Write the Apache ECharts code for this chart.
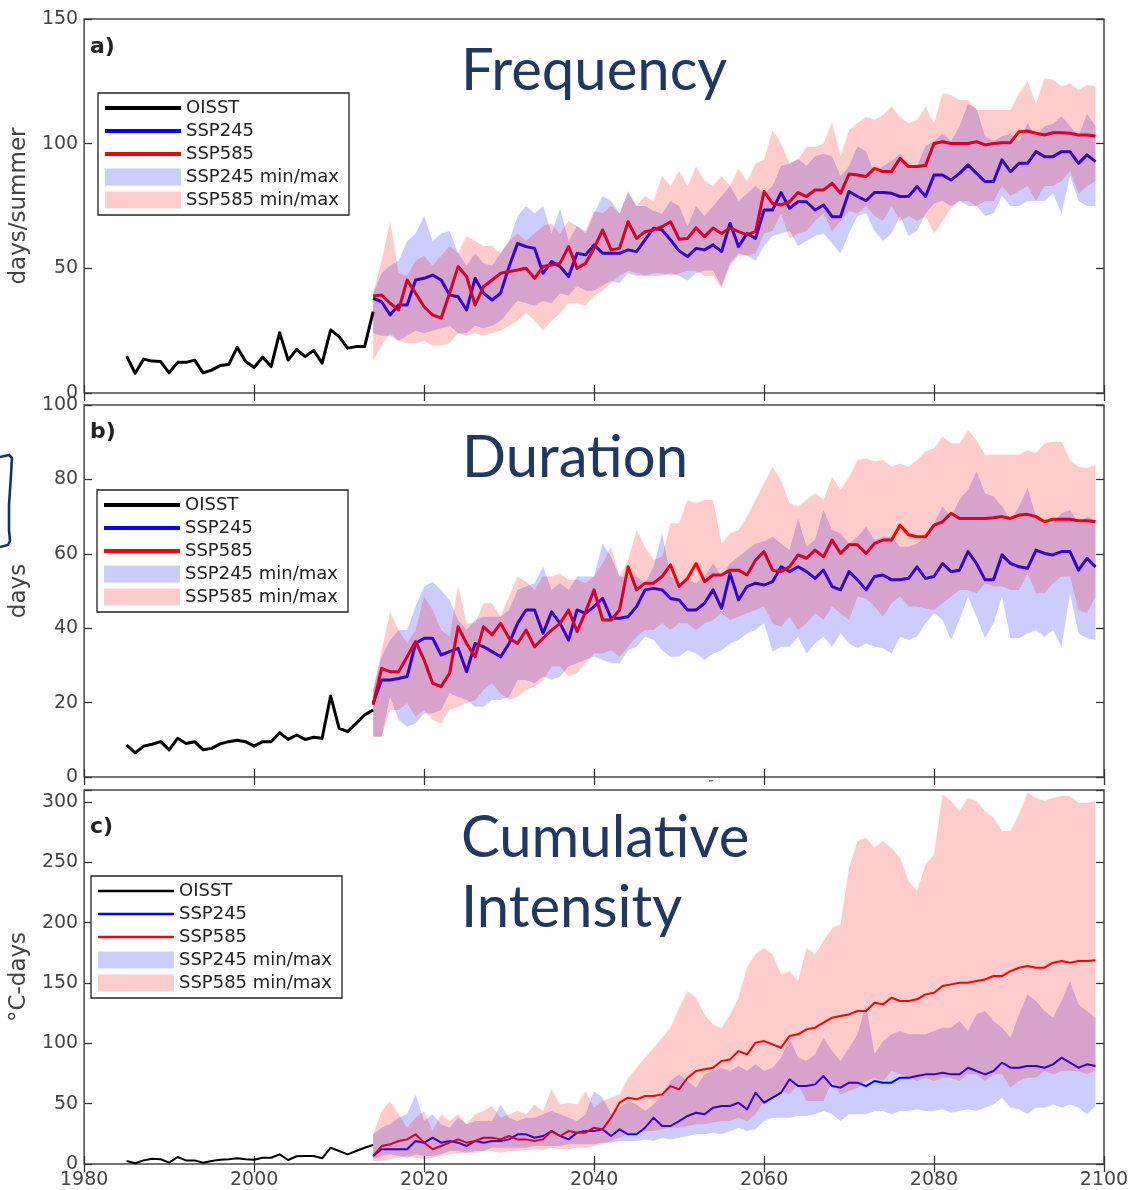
<!DOCTYPE html>
<html><head><meta charset="utf-8">
<script src="https://cdn.jsdelivr.net/npm/echarts@6/dist/echarts.min.js"></script>
<style>html,body{margin:0;padding:0;background:#fff}#c{width:1133px;height:1190px}</style>
</head><body><div id="c"></div>
<script>
// ---------- categories ----------
const obsYears = [1985,1986,1987,1988,1989,1990,1991,1992,1993,1994,1995,1996,1997,1998,1999,2000,2001,2002,2003,2004,2005,2006,2007,2008,2009,2010,2011,2012,2013,2014];
const projYears = [2014,2015,2016,2017,2018,2019,2020,2021,2022,2023,2024,2025,2026,2027,2028,2029,2030,2031,2032,2033,2034,2035,2036,2037,2038,2039,2040,2041,2042,2043,2044,2045,2046,2047,2048,2049,2050,2051,2052,2053,2054,2055,2056,2057,2058,2059,2060,2061,2062,2063,2064,2065,2066,2067,2068,2069,2070,2071,2072,2073,2074,2075,2076,2077,2078,2079,2080,2081,2082,2083,2084,2085,2086,2087,2088,2089,2090,2091,2092,2093,2094,2095,2096,2097,2098,2099];

// ---------- a) Frequency (days/summer) ----------
const freqOISST = [14.8,7.9,13.6,12.8,12.6,8.1,12.3,12.3,13.2,8.1,9.2,11.0,11.4,18.3,12.6,10.2,14.4,10.6,24.2,13.2,17.5,14.6,17.1,12.0,25.3,22.6,18.0,18.6,18.6,32.6];
const freqSSP245 = [38.0,36.6,31.3,35.3,35.3,45.3,46.0,47.3,45.3,39.3,38.6,33.3,46.0,40.0,37.3,40.0,50.7,60.0,58.7,58.0,48.0,52.7,50.7,46.7,56.0,55.4,59.4,56.0,56.0,56.0,57.4,56.7,61.4,66.1,65.4,61.4,57.0,54.7,58.0,57.4,59.4,56.7,68.1,58.7,64.0,62.0,
  73.4,73.4,80.4,74.1,76.7,76.7,73.4,75.4,70.7,70.7,80.8,78.8,77.1,80.4,80.4,80.1,78.8,78.8,82.8,78.8,87.4,87.4,85.4,88.1,91.5,88.1,84.8,84.8,93.5,88.8,92.1,92.1,96.8,94.8,94.8,96.8,96.8,92.1,95.5,92.8];
const freqSSP585 = [38.9,39.3,36.0,33.3,45.3,40.0,34.6,31.3,30.0,40.0,50.7,46.7,35.3,42.7,45.3,48.0,48.7,49.3,50.0,46.0,50.7,51.3,52.0,58.7,50.0,52.0,58.0,65.4,57.4,58.0,68.7,62.0,64.7,65.4,66.7,68.7,61.7,62.0,66.2,62.7,66.2,64.0,66.2,64.7,63.4,64.7,
  80.8,76.1,75.4,76.7,80.4,78.8,81.4,81.4,84.1,80.1,87.8,87.4,86.8,90.1,88.8,88.8,94.1,90.8,90.8,91.2,100.1,100.8,100.1,100.1,100.1,100.8,99.5,100.1,100.4,100.4,104.8,105.1,104.2,103.5,104.4,104.4,104.2,103.5,103.5,103.1];
const freqSSP245Min = [24,23,23,21,23,25,24,25,26,27,24,24,27,26,27,29,33,37,36,35,37,36,40,39,43,41,41,43,45,44,48,47,47,47,47,48,47,45,48,49,49,43,52,56,55,53,
  59,63,64,65,59,61,63,64,60,56,64,71,72,65,61,64,71,63,65,72,76,77,75,77,75,75,71,72,79,75,75,77,77,77,80,72,87,77,75,75];
const freqSSP245Max = [40,48,51,53,61,64,71,61,64,65,56,51,56,52,51,56,61,71,75,72,75,64,74,61,67,64,72,79,77,72,81,75,75,73,72,77,75,67,75,71,75,79,83,77,80,83,
  80,83,91,92,94,91,95,96,95,87,91,99,97,88,91,93,96,91,91,99,101,104,101,107,116,114,103,101,103,104,101,108,103,107,108,111,107,103,112,107];
const freqSSP585Min = [13,19,24,21,20,20,21,19,19,20,24,23,24,23,24,25,27,29,32,29,25,29,32,36,36,35,39,41,44,47,49,48,47,48,48,47,48,49,49,47,47,42,51,55,55,56,
  64,65,72,62,64,65,69,72,65,69,73,72,75,71,69,75,69,71,69,71,64,69,74,77,77,75,77,77,83,79,81,83,77,83,83,85,89,80,83,85];
const freqSSP585Max = [40,53,69,48,47,53,55,51,55,59,56,63,61,59,59,56,61,64,61,64,67,68,64,69,67,65,73,72,75,72,80,75,79,77,87,83,89,83,91,85,83,87,83,90,85,92,
  93.5,105.5,100.1,92.1,93.5,98.8,98.8,100.1,108.8,94.8,105.5,108.2,110.8,109.5,111.5,114.9,110.8,108.2,109.5,114.9,108.2,120.2,119.5,117.5,117.5,113.5,113.5,113.5,113.5,113.5,120.2,124.9,116.2,126.2,125.6,122.9,124.2,121.5,123.5,122.9];

// ---------- b) Duration (days) ----------
const durOISST = [8.6,6.5,8.3,8.8,9.5,7.3,10.4,9.0,9.5,7.3,7.7,8.9,9.5,9.9,9.5,8.3,9.5,9.5,11.9,10.1,11.3,10.1,10.7,10.4,21.8,13.1,12.2,14.4,16.7,18.0];
const durSSP245 = [19.8,26.1,26.1,26.5,27.0,35.9,37.3,37.3,32.8,33.7,34.6,28.3,35.9,35.0,33.7,32.3,35.9,41.3,44.9,44.9,38.6,44.4,41.3,36.8,44.9,44.0,45.8,48.0,42.7,42.7,43.1,45.8,50.3,50.7,50.3,48.0,47.6,44.9,44.9,46.7,50.3,45.3,54.7,47.6,51.2,52.1,
  51.6,52.5,56.5,55.2,56.5,55.2,53.4,55.6,51.2,50.3,55.2,53.0,50.3,53.9,54.3,53.0,53.0,53.4,56.5,53.4,53.9,57.4,55.2,55.6,60.6,57.4,53.0,53.0,59.7,57.4,56.5,56.1,61.0,60.1,59.7,60.6,60.6,55.6,58.8,56.5];
const durSSP585 = [19.4,29.2,28.3,28.3,32.3,36.4,31.5,25.2,24.3,27.9,40.4,35.9,32.3,40.4,38.2,41.3,37.3,35.9,39.5,35.0,37.3,39.5,41.3,44.9,39.1,44.4,50.3,42.2,42.2,44.9,56.5,50.3,52.1,52.1,53.9,57.0,51.2,53.4,57.4,52.5,54.3,54.3,55.6,55.6,54.3,58.3,
  60.6,55.6,55.2,56.5,59.7,58.8,61.0,59.2,63.7,60.1,62.4,62.4,60.1,62.8,63.7,63.7,67.7,65.1,64.6,64.6,67.7,68.6,70.9,69.5,69.5,69.5,69.5,69.7,70.0,69.5,70.4,70.6,70.0,68.6,69.3,69.3,69.3,68.9,68.9,68.6];
const durSSP245Min = [10.8,10.8,21.6,15.3,13.5,14.4,17.1,17.1,18.0,22.5,21.6,20.7,18.9,18.9,20.7,20.7,21.6,26.1,26.1,25.2,27.0,26.1,27.0,29.7,30.6,31.5,32.3,31.5,30.6,30.6,34.1,35.0,37.7,36.8,34.1,32.3,32.3,34.1,33.2,31.5,33.2,34.1,35.9,36.8,38.6,39.5,
  41.3,33.7,35.0,35.0,37.7,33.2,35.9,37.7,35.0,38.6,35.9,34.6,35.9,35.0,34.6,33.2,37.7,36.8,37.7,41.3,44.0,42.2,36.8,42.2,48.5,43.1,37.3,41.3,48.5,37.3,37.3,38.6,39.5,37.7,39.5,35.0,49.4,38.6,37.3,36.8];
const durSSP245Max = [23.4,32.3,36.8,39.5,39.5,45.8,51.2,52.5,50.3,47.6,42.2,39.5,42.2,43.1,43.1,43.1,44.9,50.3,51.2,52.1,56.5,50.3,52.1,50.3,53.9,53.9,53.9,62.8,59.2,53.9,53.9,53.9,52.1,56.5,65.5,53.9,52.1,53.0,52.1,53.9,57.4,53.9,57.4,59.2,61.0,62.8,
  63.3,64.6,62.8,61.0,69.5,61.9,63.7,71.8,66.4,65.5,62.8,64.6,67.3,63.7,64.6,64.6,61.9,61.9,62.8,64.6,68.2,72.7,70.0,74.5,77.2,82.1,76.3,75.4,72.7,69.1,72.7,77.6,70.0,68.2,68.2,70.9,71.8,68.2,70.0,69.1];
const durSSP585Min = [10.8,10.8,18.0,18.0,19.8,16.2,18.0,15.3,14.4,18.0,18.9,19.8,20.7,23.4,25.2,22.5,20.7,21.6,23.4,24.3,26.1,29.7,29.7,27.0,27.9,30.6,33.2,33.2,34.1,32.3,35.0,37.7,39.5,39.5,41.3,39.5,41.3,41.3,39.5,41.3,42.2,44.0,42.2,43.1,44.0,44.9,
  45.8,41.3,40.4,43.1,39.5,41.3,44.0,42.2,45.8,44.0,42.2,48.5,48.0,45.8,43.1,46.7,48.5,45.8,45.8,45.3,44.9,46.7,48.5,50.3,50.3,49.4,52.1,51.2,51.2,50.3,50.3,54.7,49.4,49.4,52.1,53.9,53.9,44.9,44.0,48.5];
const durSSP585Max = [23.4,34.1,44.4,39.5,35.9,39.5,48.5,44.9,39.5,37.7,51.6,41.3,41.3,46.7,46.7,43.1,48.5,53.9,52.5,50.3,53.9,53.9,54.7,53.0,53.0,52.1,53.9,57.4,61.9,53.9,58.3,66.4,61.9,58.3,59.2,68.2,68.2,74.5,73.6,74.5,74.5,62.8,65.5,66.4,70.0,74.5,
  78.9,83.4,79.8,73.6,72.7,74.5,76.3,74.5,80.7,77.2,80.7,85.2,85.7,84.8,85.2,83.4,84.3,83.4,85.2,87.5,88.4,91.5,89.7,89.7,93.3,90.6,86.6,86.6,86.6,86.6,86.6,87.9,87.0,89.7,90.1,90.1,85.2,83.4,83.0,83.9];

// ---------- c) Cumulative intensity (°C-days) ----------
const ciOISST = [2.5,0.6,3.0,4.4,3.9,1.1,5.8,3.0,3.0,1.1,2.5,3.6,3.9,4.7,3.9,3.6,5.2,5.2,8.0,3.3,6.4,6.6,6.6,4.7,13.5,10.8,8.0,10.8,13.5,15.7];
const ciSSP245 = [6.6,12.2,12.2,12.2,12.2,19.1,17.7,21.8,17.7,19.1,17.7,14.9,19.1,17.7,19.1,19.1,20.4,24.6,24.6,21.8,23.2,27.3,23.2,20.4,26.0,27.3,27.3,28.7,23.2,28.7,24.6,24.6,30.1,38.4,31.5,31.5,35.6,39.8,42.5,41.2,46.7,48.1,48.1,50.8,45.3,59.1,
  50.8,55.0,59.1,70.2,64.6,64.6,66.0,72.9,64.6,63.3,67.4,67.4,64.6,68.8,67.4,67.4,71.5,71.5,72.9,74.3,74.3,75.7,74.3,74.3,79.8,77.1,74.3,77.1,84.0,79.8,79.8,81.2,81.2,79.8,82.6,88.1,84.0,79.8,82.6,81.2];
const ciSSP585 = [6.6,14.9,16.3,19.1,20.4,24.6,17.7,12.2,14.9,17.7,20.4,17.7,19.1,21.8,21.8,20.4,23.2,20.4,20.4,19.1,20.4,27.3,23.2,27.3,26.0,26.0,30.1,28.7,38.4,50.8,55.0,53.6,56.4,56.4,57.7,64.6,61.9,71.5,77.1,78.5,79.8,85.4,86.7,93.6,90.9,100.6,
  101.9,99.2,96.4,106.1,107.5,111.6,113.0,117.1,121.3,122.7,124.0,126.8,126.8,133.7,132.3,137.8,135.1,135.1,136.5,140.6,142.0,147.5,148.9,150.3,150.3,151.7,153.0,155.8,155.8,159.9,162.7,164.1,162.7,162.7,166.9,168.2,166.9,168.2,168.2,168.8];
const ciSSP245Min = [3.9,6.6,8.0,6.6,5.2,8.0,6.6,6.6,8.0,10.8,10.8,9.4,10.8,10.8,13.5,13.5,13.5,13.5,13.5,14.9,14.9,14.9,14.9,16.3,16.3,16.3,16.3,17.7,17.7,19.1,19.1,19.1,20.4,19.1,21.8,20.4,21.8,23.2,24.6,24.6,26.0,24.6,27.3,30.1,27.3,28.7,
  35.6,38.4,38.4,38.4,39.8,39.8,41.2,43.9,41.2,35.6,41.2,41.2,41.2,43.9,43.9,41.2,43.9,43.9,45.3,43.9,43.9,45.3,42.5,43.9,45.3,43.9,46.7,49.4,55.0,46.7,45.3,41.2,46.7,46.7,49.4,46.7,49.4,46.7,41.2,48.1];
const ciSSP245Max = [24.6,30.1,32.9,38.4,41.2,57.7,35.6,41.2,32.9,30.1,38.4,32.9,35.6,35.6,35.6,49.4,38.4,35.6,38.4,38.4,41.2,43.9,41.2,38.4,35.6,41.2,60.5,55.0,41.2,46.7,52.2,49.4,43.9,49.4,57.7,68.8,74.3,68.8,63.3,74.3,77.1,79.8,77.1,81.2,77.1,82.6,
  77.1,79.8,88.1,104.7,88.1,85.4,90.9,104.7,93.6,85.4,96.4,107.5,132.3,90.9,101.9,107.5,110.2,107.5,107.5,107.5,110.2,113.0,113.0,118.5,110.2,124.0,126.8,118.5,113.0,104.7,124.0,140.6,135.1,126.8,121.3,135.1,151.7,132.3,126.8,121.3];
const ciSSP585Min = [2.5,2.5,3.9,5.2,6.6,5.2,3.9,5.2,6.6,8.0,8.6,9.4,9.4,10.8,10.8,9.4,10.8,10.8,11.3,12.2,11.3,13.5,12.2,12.2,13.5,13.5,14.9,16.3,19.1,21.8,24.6,26.0,27.3,27.3,28.7,30.1,30.1,31.5,32.9,32.9,34.3,35.6,35.6,38.4,35.6,41.2,
  52.2,55.0,60.5,57.7,66.0,52.2,52.2,52.2,68.8,57.7,60.5,63.3,68.8,71.5,68.8,77.1,74.3,71.5,68.8,71.5,68.8,71.5,71.5,68.8,74.3,74.3,68.8,74.3,74.3,63.3,68.8,71.5,71.5,77.1,74.3,77.1,77.1,77.1,74.3,77.1];
const ciSSP585Max = [24.6,43.9,52.2,41.2,30.1,38.4,43.9,27.3,41.2,35.6,41.2,32.9,41.2,43.9,48.1,38.4,41.2,43.9,41.2,49.4,43.9,61.9,49.4,50.8,49.4,60.5,46.7,52.2,55.0,57.7,71.5,79.8,88.1,96.4,104.7,113.0,129.6,143.4,137.8,124.0,115.7,113.0,124.0,138.0,163.0,174.0,
  179.3,173.8,157.2,159.9,151.7,179.3,173.8,184.8,195.9,198.6,245.6,267.7,270.4,262.2,267.7,262.2,253.9,234.5,226.2,248.3,256.6,306.4,300.8,292.5,303.6,300.8,292.5,287.0,276.0,276.0,289.8,307.7,303.6,300.8,303.6,305.0,305.0,299.4,299.4,300.8];

// ---------- tick labels / names ----------
const xTickYears = [1980, 2000, 2020, 2040, 2060, 2080, 2100];
const yNames = ['days/summer', 'days', '°C-days'];
const panelTags = ['a)', 'b)', 'c)'];
const overlayLines = [['Frequency'], ['Duration'], ['Cumulative', 'Intensity']];
const legendNames = ['OISST', 'SSP245', 'SSP585', 'SSP245 min/max', 'SSP585 min/max'];

// ---------- layout / style ----------
const C_BLUE = '#0000ff', C_RED = '#ff0000', C_BLACK = '#000000';
const F_BLUE = 'rgba(0,0,255,0.2)', F_RED = 'rgba(255,0,0,0.2)';
const LABEL_COLOR = '#444', FONT = 'DejaVu Sans';
const grids = [
  {top: 19, height: 374},
  {top: 405, height: 372},
  {top: 790, height: 374}
];
const yScales = [
  {min: 0, max: 150, interval: 50},
  {min: 0, max: 100, interval: 20},
  {min: 0, max: 310, interval: 50, lastLabel: 300}
];
const panels = [
  {obs: freqOISST, s245: freqSSP245, s585: freqSSP585, lo245: freqSSP245Min, hi245: freqSSP245Max, lo585: freqSSP585Min, hi585: freqSSP585Max, lw: 3},
  {obs: durOISST, s245: durSSP245, s585: durSSP585, lo245: durSSP245Min, hi245: durSSP245Max, lo585: durSSP585Min, hi585: durSSP585Max, lw: 3},
  {obs: ciOISST, s245: ciSSP245, s585: ciSSP585, lo245: ciSSP245Min, hi245: ciSSP245Max, lo585: ciSSP585Min, hi585: ciSSP585Max, lw: 2}
];
const legendPos = [
  {left: 98, top: 93, lineH: 4},
  {left: 97, top: 490, lineH: 4},
  {left: 91, top: 876, lineH: 2.5}
];

const pairs = (xs, vs) => xs.map((x, i) => [x, vs[i]]);

const option = {
  animation: false,
  backgroundColor: '#fff',
  grid: grids.map(g => ({left: 83, width: 1021, top: g.top, height: g.height, show: true,
    borderColor: '#4a4a4a', borderWidth: 1.5, backgroundColor: 'transparent'})),
  xAxis: [], yAxis: [], series: [], legend: [], graphic: []
};

panels.forEach((p, g) => {
  const tick = {show: true, inside: true, length: 8, lineStyle: {color: '#333', width: 1.3}};
  option.xAxis.push({type: 'value', gridIndex: g, position: 'bottom', min: xTickYears[0], max: xTickYears[xTickYears.length - 1], interval: 20,
    axisLine: {show: false}, axisTick: tick, splitLine: {show: false},
    axisLabel: {show: g === 2, fontFamily: FONT, fontSize: 19, color: LABEL_COLOR, margin: 7,
      formatter: v => (xTickYears.indexOf(v) >= 0 ? String(v) : '')}});
  option.xAxis.push({type: 'value', gridIndex: g, position: 'top', min: 1980, max: 2100, interval: 20,
    axisLine: {show: false}, axisTick: tick, splitLine: {show: false}, axisLabel: {show: false}});
  const ys = yScales[g];
  const lastLabel = ys.lastLabel != null ? ys.lastLabel : ys.max;
  option.yAxis.push({type: 'value', gridIndex: g, position: 'left', min: ys.min, max: ys.max, interval: ys.interval,
    name: yNames[g], nameLocation: 'middle', nameGap: 48,
    nameTextStyle: {fontFamily: FONT, fontSize: 23, color: LABEL_COLOR},
    axisLine: {show: false}, axisTick: tick, splitLine: {show: false},
    axisLabel: {fontFamily: FONT, fontSize: 19, color: LABEL_COLOR, margin: 6,
      formatter: v => (v <= lastLabel && v % ys.interval === 0 ? String(v) : '')}});
  option.yAxis.push({type: 'value', gridIndex: g, position: 'right', min: ys.min, max: ys.max, interval: ys.interval,
    axisLine: {show: false}, axisTick: tick, splitLine: {show: false}, axisLabel: {show: false}});

  const xi = 2 * g, yi = 2 * g;
  const lineS = (name, data, color) => ({type: 'line', name, xAxisIndex: xi, yAxisIndex: yi, data,
    symbol: 'none', showSymbol: false, silent: true, z: 2,
    lineStyle: {color, width: p.lw, join: 'round'}, itemStyle: {color}});
  option.series.push(lineS('OISST', pairs(obsYears, p.obs), C_BLACK));
  option.series.push(lineS('SSP245', pairs(projYears, p.s245), C_BLUE));
  option.series.push(lineS('SSP585', pairs(projYears, p.s585), C_RED));
  // min/max envelopes drawn through the axes' scales (api.coord)
  const band = (name, lo, hi, fill) => ({
    type: 'custom', name, xAxisIndex: xi, yAxisIndex: yi, silent: true, z: 3,
    data: projYears.map((x, i) => [x, lo[i], hi[i]]),
    encode: {x: 0, y: [1, 2]},
    itemStyle: {color: fill},
    renderItem: (params, api) => {
      if (params.dataIndex !== 0) return null;
      const top = projYears.map((x, i) => api.coord([x, hi[i]]));
      const bot = projYears.map((x, i) => api.coord([x, lo[i]])).reverse();
      return {type: 'polygon', shape: {points: top.concat(bot)}, style: {fill: fill, stroke: null}};
    }
  });
  option.series.push(band('SSP245 min/max', p.lo245, p.hi245, F_BLUE));
  option.series.push(band('SSP585 min/max', p.lo585, p.hi585, F_RED));

  const lp = legendPos[g];
  const lineIcon = 'path://M0,0H76V' + lp.lineH + 'H0Z';
  option.legend.push({
    orient: 'vertical', left: lp.left, top: lp.top, itemWidth: 76, itemHeight: 17, itemGap: 5,
    padding: [6, 10, 6, 7], borderColor: '#222', borderWidth: 1.3, backgroundColor: '#fff',
    selectedMode: false, symbolKeepAspect: true,
    textStyle: {fontFamily: FONT, fontSize: 18, color: '#222'},
    data: [
      {name: legendNames[0], icon: lineIcon, itemStyle: {color: C_BLACK, borderWidth: 0}},
      {name: legendNames[1], icon: lineIcon, itemStyle: {color: C_BLUE, borderWidth: 0}},
      {name: legendNames[2], icon: lineIcon, itemStyle: {color: C_RED, borderWidth: 0}},
      {name: legendNames[3], icon: 'rect', itemStyle: {color: F_BLUE, borderWidth: 0}},
      {name: legendNames[4], icon: 'rect', itemStyle: {color: F_RED, borderWidth: 0}}
    ]
  });
});

// panel tags
const tagY = [47, 432, 827];
panelTags.forEach((t, i) => option.graphic.push({type: 'text', x: 90, y: tagY[i], z: 10,
  style: {text: t, font: 'bold 22px "DejaVu Sans"', fill: '#222', verticalAlign: 'middle', align: 'left'}}));

// overlay titles (baseline ~19px below the given middle)
const titleRows = [[71], [458], [838, 908]];
const titleX = [461, 462, 461];
overlayLines.forEach((lines, i) => lines.forEach((t, j) => option.graphic.push({type: 'text', x: titleX[i], y: titleRows[i][j], z: 10,
  style: {text: t, font: '58px Lato', fill: '#1F3864', verticalAlign: 'middle', align: 'left'}})));

// bracket shape at left edge and small mark
option.graphic.push({type: 'polyline', z: 10, shape: {points: [[0, 457], [9, 455], [12, 458], [11, 475], [9, 505], [9, 530], [10, 541], [8, 545], [0, 547]]},
  style: {stroke: '#14306a', lineWidth: 2.6, fill: null}});
option.graphic.push({type: 'rect', z: 10, shape: {x: 709, y: 780, width: 4, height: 1.5}, style: {fill: '#777'}});

const chart = echarts.init(document.getElementById('c'), null, {renderer: 'canvas'});
chart.setOption(option);
</script>
</body></html>
